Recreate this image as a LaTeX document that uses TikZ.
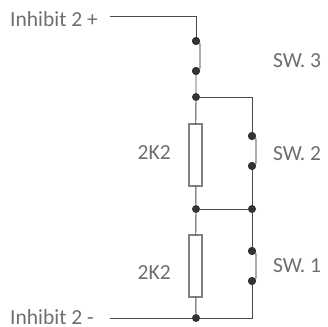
\documentclass[tikz,border=0pt]{standalone}
\usepackage{fontspec}
\setmainfont{Carlito}
\definecolor{wirec}{HTML}{4A4A4A}
\definecolor{bladec}{HTML}{808080}
\definecolor{textc}{HTML}{6E6E6E}
\definecolor{dotc}{HTML}{333333}
\tikzset{
  wire/.style={draw=wirec,line width=0.9bp},
  blade/.style={draw=bladec,line width=1.3bp},
  res/.style={draw=bladec,fill=white,line width=1.1bp,minimum width=13bp,minimum height=62bp,inner sep=0pt,outer sep=0pt,rectangle},
  dot/.style={circle,fill=dotc,minimum size=8bp,inner sep=0pt,outer sep=0pt},
  lab/.style={text=textc,font=\fontsize{21.5bp}{24bp}\selectfont,inner sep=0pt,anchor=base west},
}
\begin{document}
\begin{tikzpicture}[x=1bp,y=-1bp]
\useasboundingbox (0,0) rectangle (328,327);
\coordinate (topfree) at (110,16);
\coordinate (topcorner) at (196,16);
\coordinate (botfree) at (110,318);
\coordinate (rtop) at (252,97);
\coordinate (rbot) at (252,318);
\node[res] (r1) at (195.5,155) {};
\node[res] (r2) at (195.5,266) {};
\node[dot] (s3a) at (196,41) {};
\node[dot] (s3b) at (196,71) {};
\node[dot] (n1) at (196,97) {};
\node[dot] (n2) at (196,209) {};
\node[dot] (n3) at (196,318) {};
\node[dot] (s2a) at (252,136) {};
\node[dot] (s2b) at (252,166) {};
\node[dot] (n4) at (252,209) {};
\node[dot] (s1a) at (252,251) {};
\node[dot] (s1b) at (252,281) {};
\draw[wire] (topfree) -- (topcorner) -- (s3a);
\draw[wire] (s3b) -- (n1) -- (r1);
\draw[wire] (r1) -- (n2) -- (r2);
\draw[wire] (r2) -- (n3);
\draw[wire] (botfree) -- (n3) -- (rbot) -- (s1b);
\draw[wire] (n1) -- (rtop) -- (s2a);
\draw[wire] (s2b) -- (n4) -- (s1a);
\draw[wire] (n2) -- (n4);
\draw[blade] (s3a) -- ++(4,3) -- ++(0,24) -- (s3b);
\draw[blade] (s2a) -- ++(4,3) -- ++(0,24) -- (s2b);
\draw[blade] (s1a) -- ++(4,3) -- ++(0,24) -- (s1b);
\node[dot] at (s3a) {};
\node[dot] at (s3b) {};
\node[dot] at (s2a) {};
\node[dot] at (s2b) {};
\node[dot] at (s1a) {};
\node[dot] at (s1b) {};
\node[lab] (t1) at (10,26) {Inhibit 2 +};
\node[lab] (t2) at (10,324) {Inhibit 2 -};
\node[lab] (t3) at (273,67.5) {SW. 3};
\node[lab] (t4) at (273,160) {SW. 2};
\node[lab] (t5) at (273,272) {SW. 1};
\node[lab] (t6) at (137.5,159) {2K2};
\node[lab] (t7) at (137.5,279) {2K2};
\end{tikzpicture}
\end{document}
